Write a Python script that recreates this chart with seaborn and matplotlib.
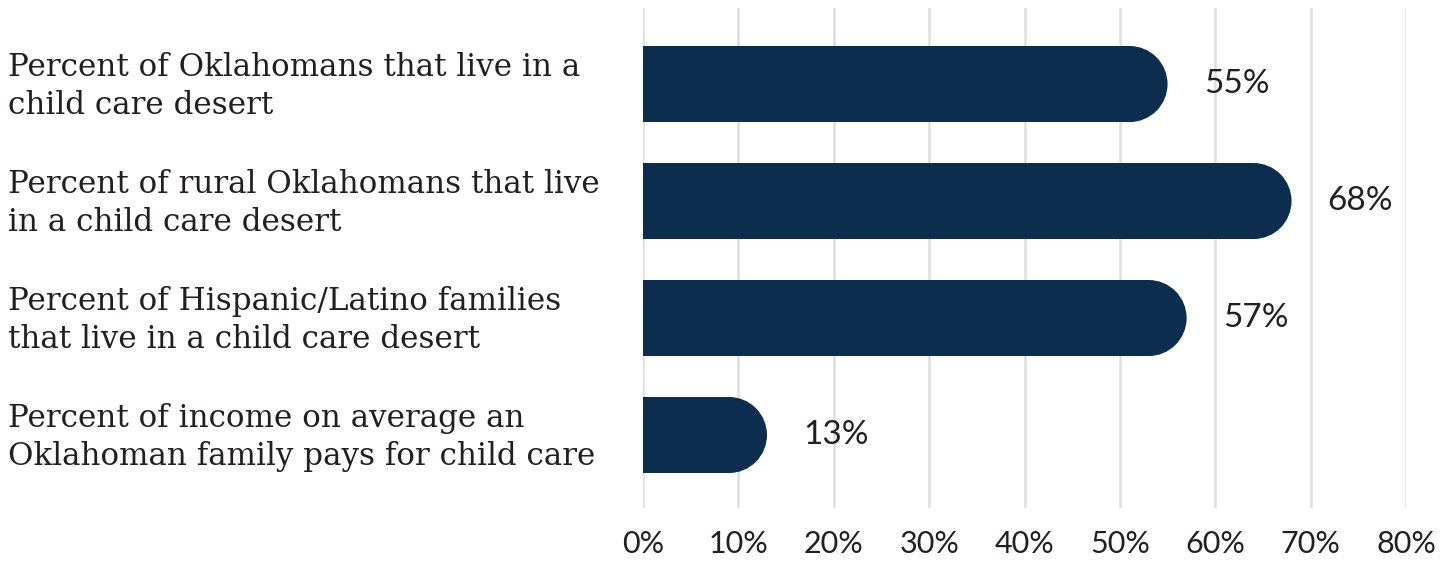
import matplotlib
matplotlib.use('Agg')
import matplotlib.pyplot as plt
import matplotlib.transforms as mtransforms
from matplotlib.patches import Ellipse
import pandas as pd
import seaborn as sns

labels = [
    'Percent of Oklahomans that live in a\nchild care desert',
    'Percent of rural Oklahomans that live\nin a child care desert',
    'Percent of Hispanic/Latino families\nthat live in a child care desert',
    'Percent of income on average an\nOklahoman family pays for child care',
]
values = [55, 68, 57, 13]
xticks = [0, 10, 20, 30, 40, 50, 60, 70, 80]

navy = '#0d2d4f'
ink = '#231f20'

sns.set_theme(style='whitegrid')
plt.rcParams['font.family'] = ['Lato', 'DejaVu Sans']

df = pd.DataFrame({'label': labels, 'value': values})

fig = plt.figure(figsize=(14.56, 5.61), dpi=100)
ax = fig.add_axes([643 / 1456, 53 / 561, 763 / 1456, 500 / 561])
sns.barplot(df, x='value', y='label', color=navy, width=0.65, saturation=1, ax=ax)

ax.set_xlim(0, 80)
ax.set_ylim(3.624, -0.65)
ax.set_xticks(xticks)
ax.set_xticklabels([f'{t}%' for t in xticks], fontsize=22, color=ink)
ax.tick_params(axis='x', length=0, pad=16)
ax.set_yticks([])
ax.set_xlabel('')
ax.set_ylabel('')
ax.grid(axis='x', color='#dedede', linewidth=1.8)
ax.grid(axis='y', visible=False)
for s in ax.spines.values():
    s.set_visible(False)

# round the right end of each bar
px_x = ax.transData.transform((1, 0))[0] - ax.transData.transform((0, 0))[0]
px_y = abs(ax.transData.transform((0, 1))[1] - ax.transData.transform((0, 0))[1])
for p in ax.patches[:len(values)]:
    w, h, y = p.get_width(), p.get_height(), p.get_y()
    rx = h * px_y / 2 / px_x
    p.set_width(w - rx)
    p.set_linewidth(0)
    ax.add_patch(Ellipse((w - rx, y + h / 2), 2 * rx, h, color=navy, lw=0))

# value labels
for i, v in enumerate(values):
    ax.annotate(f'{v}%', (v, i), xytext=(26, 0), textcoords='offset points',
                va='center', ha='left', fontsize=24, color=ink)

# category labels, left aligned at figure edge
trans = mtransforms.blended_transform_factory(fig.transFigure, ax.transData)
for i, lab in enumerate(labels):
    ax.text(8 / 1456, i + 0.02, lab, transform=trans, ha='left', va='center',
            fontsize=22.3, color=ink, family=['DejaVu Serif'], linespacing=1.3)

fig.savefig('out.png', dpi=100)
